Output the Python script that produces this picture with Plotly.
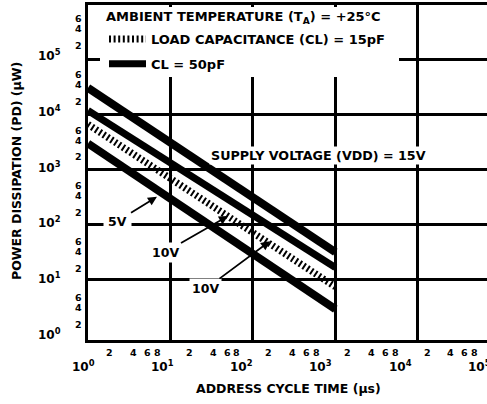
import math
import plotly.graph_objects as go

# ---------------- data ----------------
cycle_time_us = [1, 1000]
pd_15v_50pf = [3.1e4, 31.6]
pd_10v_50pf = [1.2e4, 16.6]
pd_10v_15pf = [6.7e3, 7.4]
pd_5v_50pf = [3.0e3, 2.9]

x_decades = [0, 1, 2, 3, 4, 5]
x_minor = [2, 4, 6, 8]
y_decades = [0, 1, 2, 3, 4, 5]
y_minor = [2, 4, 6]
x_grid_vals = [1, 10, 100, 1000, 10000]
y_grid_vals = [10, 100, 1000, 10000, 100000]

legend_title = "AMBIENT TEMPERATURE (T<sub>A</sub>) = +25°C"
name_15pf = "LOAD CAPACITANCE (CL) = 15pF"
name_50pf = "CL = 50pF"
supply_label = "SUPPLY VOLTAGE (VDD) = 15V"
x_title = "ADDRESS CYCLE TIME (µs)"
y_title = "POWER DISSIPATION (PD) (µW)"

# ---------------- layout geometry ----------------
W, H = 487, 404
ML, MR, MT, MB = 88, 0, 5, 64
PW, PH = W - ML - MR, H - MT - MB
XR = [0, 4.84]
YR = [-0.1, 6.0]
FONT = "DejaVu Sans"


def pxx(px):
    return (px - ML) / PW


def pyy(py):
    return (H - MB - py) / PH


fig = go.Figure()
fig.add_trace(go.Scatter(x=cycle_time_us, y=pd_15v_50pf, mode="lines",
                         line=dict(color="black", width=8), showlegend=False))
fig.add_trace(go.Scatter(x=cycle_time_us, y=pd_10v_50pf, mode="lines",
                         line=dict(color="black", width=7), name=name_50pf,
                         legendgroup="b", legendrank=2))
fig.add_trace(go.Scatter(x=cycle_time_us, y=pd_10v_15pf, mode="lines",
                         line=dict(color="black", width=7, dash="2px,2.6px"),
                         name=name_15pf, legendgroup="a", legendrank=1))
fig.add_trace(go.Scatter(x=cycle_time_us, y=pd_5v_50pf, mode="lines",
                         line=dict(color="black", width=8), showlegend=False))

ann = []
bold = dict(family=FONT, color="black", weight="bold")

# x tick labels (slightly compressed label scale as in the reference)
for d in x_decades:
    ann.append(dict(xref="paper", yref="paper", x=pxx(83 + 79.3 * d), y=pyy(366),
                    text=f"10<sup>{d}</sup>", showarrow=False,
                    font=dict(bold, size=12), xanchor="center", yanchor="middle"))
    if d < 5:
        for m in x_minor:
            ann.append(dict(xref="paper", yref="paper",
                            x=pxx(86 + 79.3 * (d + math.log10(m))), y=pyy(352),
                            text=str(m), showarrow=False,
                            font=dict(bold, size=9.5), xanchor="center", yanchor="middle"))

# y tick labels
for d in y_decades:
    ann.append(dict(xref="paper", yref="paper", x=pxx(49), y=pyy(334 - 55.8 * d),
                    text=f"10<sup>{d}</sup>", showarrow=False,
                    font=dict(bold, size=12), xanchor="center", yanchor="middle"))
    for m in y_minor:
        ann.append(dict(xref="paper", yref="paper", x=pxx(78),
                        y=pyy(341 - 55.8 * (d + math.log10(m))),
                        text=str(m), showarrow=False,
                        font=dict(bold, size=9.5), xanchor="center", yanchor="middle"))

# axis titles
ann.append(dict(xref="paper", yref="paper", x=pxx(288), y=pyy(388), text=x_title,
                showarrow=False, font=dict(bold, size=12.5), xanchor="center", yanchor="middle"))
ann.append(dict(xref="paper", yref="paper", x=pxx(16), y=pyy(171), text=y_title,
                textangle=-90, showarrow=False, font=dict(bold, size=12.5),
                xanchor="center", yanchor="middle"))

# legend heading
ann.append(dict(xref="paper", yref="paper", x=pxx(104), y=pyy(17), text=legend_title,
                showarrow=False, font=dict(bold, size=13), xanchor="left", yanchor="middle"))

# supply voltage label
ann.append(dict(xref="x", yref="y", x=2.79, y=3.26, text=supply_label, showarrow=False,
                font=dict(bold, size=12.7), bgcolor="white", borderpad=1))

# arrow labels (text position -> head position, in log units)
arrow_defs = [("5V", 0.352, 2.06, 0.837, 2.507, 4),
              ("10V", 0.934, 1.497, 1.698, 2.158, 2),
              ("10V", 1.431, 0.836, 2.208, 1.699, 2)]
for txt, tx, ty, hx, hy, pad in arrow_defs:
    ann.append(dict(xref="x", yref="y", x=hx, y=hy, axref="x", ayref="y", ax=tx, ay=ty,
                    text=txt, showarrow=True, arrowhead=2, arrowsize=1, arrowwidth=1.8,
                    arrowcolor="black", standoff=0, font=dict(bold, size=12.5),
                    bgcolor="white", borderpad=pad))

axis_common = dict(type="log", showgrid=True, gridcolor="black", gridwidth=3,
                   tickmode="array", showticklabels=False, ticks="", showline=True,
                   linecolor="black", linewidth=3, zeroline=False)

fig.update_layout(
    width=W, height=H,
    margin=dict(l=ML, r=MR, t=MT, b=MB, pad=0),
    paper_bgcolor="white", plot_bgcolor="white",
    xaxis=dict(axis_common, range=XR, mirror=True, tickvals=x_grid_vals),
    yaxis=dict(axis_common, range=YR, mirror=False, tickvals=y_grid_vals),
    annotations=ann,
    shapes=[dict(type="rect", xref="paper", yref="paper", x0=pxx(100), x1=pxx(399),
                 y0=pyy(77), y1=pyy(7), fillcolor="white", line=dict(width=0),
                 layer="above")],
    legend=dict(x=pxx(104), y=pyy(24), xanchor="left", yanchor="top",
                bgcolor="rgba(255,255,255,0)", borderwidth=0, itemwidth=37,
                font=dict(bold, size=13), tracegroupgap=5),
    showlegend=True,
)

fig.write_html("out.html", config={"displayModeBar": False},
               post_script="document.body.style.margin='0px';")
